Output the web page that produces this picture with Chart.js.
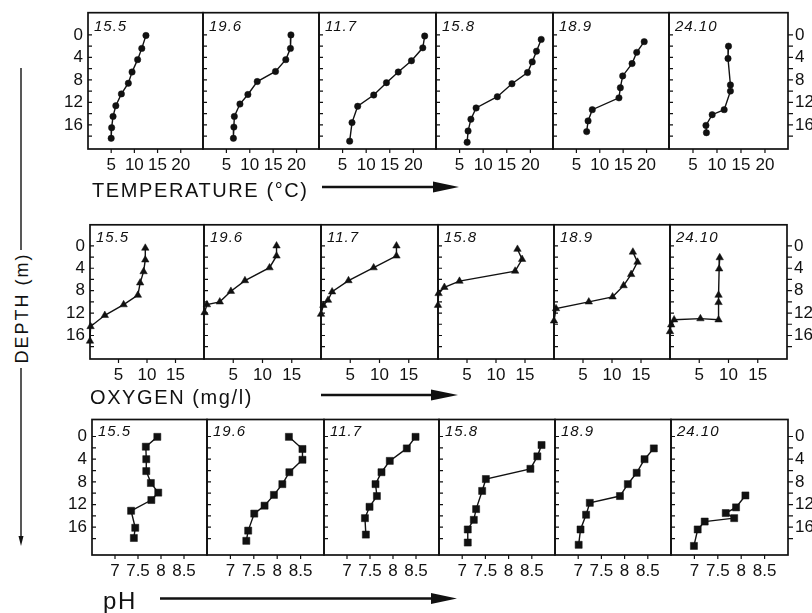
<!DOCTYPE html>
<html><head><meta charset="utf-8">
<script src="https://cdn.jsdelivr.net/npm/chart.js@4.4.1/dist/chart.umd.min.js"></script>
<style>
html,body{margin:0;padding:0;background:#fff;}
#wrap{position:relative;width:812px;height:613px;overflow:hidden;font-family:'Liberation Sans',Arial,sans-serif;color:#111;}
#wrap canvas{position:absolute;}
.date{position:absolute;font-style:italic;font-size:15px;line-height:1;letter-spacing:1px;white-space:nowrap;}
.title{position:absolute;font-size:20px;letter-spacing:1.6px;line-height:1;white-space:nowrap;}
.depth{position:absolute;font-size:18px;letter-spacing:2px;line-height:1;white-space:nowrap;transform:rotate(-90deg);transform-origin:center center;}
svg{position:absolute;left:0;top:0;}
</style></head><body><div id="wrap"></div>
<script>
// ---- data ----
const dates = ['15.5', '19.6', '11.7', '15.8', '18.9', '24.10'];
const depthTicks = [0, 4, 8, 12, 16];
const tempTicks = [5, 10, 15, 20];
const oxyTicks = [5, 10, 15];
const phTicks = [7, 7.5, 8, 8.5];

// temperature (°C) profiles
const tempDepth = [
  [0.1, 2.4, 4.4, 6.6, 8.6, 10.5, 12.6, 14.5, 16.5, 18.4],
  [0, 2.4, 4.4, 6.5, 8.3, 10.6, 12.3, 14.5, 16.4, 18.4],
  [0.2, 2.3, 4.6, 6.6, 8.5, 10.7, 12.7, 15.6, 18.9],
  [0.8, 2.9, 4.8, 6.7, 8.7, 11.0, 13.0, 15.0, 17.1, 19.1],
  [1.2, 3.1, 5.1, 7.3, 9.4, 11.2, 13.3, 15.3, 17.2],
  [2.0, 4.2, 8.9, 10.0, 13.3, 14.2, 16.1, 17.4]
];
const tempValue = [
  [12.5, 11.6, 10.7, 9.5, 8.7, 7.2, 6.0, 5.4, 5.1, 5.0],
  [18.8, 18.7, 17.7, 15.5, 11.6, 9.6, 7.9, 6.7, 6.6, 6.5],
  [22.4, 22.0, 19.6, 16.8, 14.3, 11.6, 8.2, 7.0, 6.5],
  [22.3, 21.3, 20.4, 19.4, 16.1, 13.0, 8.5, 7.4, 6.8, 6.6],
  [19.5, 17.9, 16.9, 14.9, 14.4, 14.1, 8.4, 7.5, 7.2],
  [12.4, 12.3, 12.8, 12.8, 11.5, 9.0, 7.7, 7.8]
];

// oxygen (mg/l) profiles
const oxyDepth = [
  [0.4, 2.5, 4.6, 6.6, 8.8, 10.5, 12.4, 14.4, 17.0],
  [0, 1.8, 3.9, 6.2, 8.1, 10.0, 10.5, 11.9],
  [0, 1.8, 3.9, 6.2, 8.2, 9.7, 10.6, 12.2],
  [0.6, 2.4, 4.5, 6.3, 7.4, 8.5, 10.6],
  [1.1, 2.9, 5.1, 7.1, 9.1, 10.0, 11.2, 13.4],
  [2.1, 4.1, 8.8, 10.1, 13.2, 13.0, 13.2, 14.1, 15.3]
];
const oxyValue = [
  [9.7, 9.7, 9.4, 8.8, 8.4, 5.9, 2.6, 0.1, 0],
  [12.4, 12.4, 11.2, 7.0, 4.6, 2.7, 0.5, 0.1],
  [12.9, 12.9, 9.0, 4.7, 1.9, 1.2, 0.4, 0],
  [13.7, 14.5, 13.3, 3.7, 1.1, 0.1, 0],
  [13.6, 14.4, 13.3, 12.0, 10.1, 6.0, 0.35, 0],
  [8.5, 8.4, 8.3, 8.3, 8.3, 5.2, 0.7, 0.2, 0]
];

// pH profiles
const phDepth = [
  [0.06, 1.8, 4.0, 6.1, 8.2, 9.9, 11.2, 13.1, 16.1, 17.9],
  [0.06, 2.2, 4.1, 6.3, 8.4, 10.3, 12.2, 13.6, 16.6, 18.4],
  [0.06, 2.1, 4.3, 6.3, 8.4, 10.5, 12.4, 14.4, 17.3],
  [1.5, 3.5, 5.7, 7.5, 9.6, 12.8, 14.7, 16.4, 18.7],
  [2.1, 4.0, 6.4, 8.4, 10.5, 11.7, 13.8, 16.4, 19.1],
  [10.4, 12.5, 13.5, 14.4, 15.0, 16.4, 19.3]
];
const phValue = [
  [7.92, 7.67, 7.68, 7.68, 7.78, 7.94, 7.79, 7.35, 7.44, 7.41],
  [8.25, 8.54, 8.54, 8.26, 8.11, 7.93, 7.73, 7.51, 7.38, 7.34],
  [8.49, 8.30, 7.93, 7.75, 7.62, 7.65, 7.49, 7.39, 7.41],
  [8.71, 8.62, 8.47, 7.51, 7.43, 7.30, 7.25, 7.12, 7.12],
  [8.63, 8.43, 8.26, 8.07, 7.90, 7.25, 7.17, 7.05, 7.01],
  [8.09, 7.89, 7.67, 7.85, 7.22, 7.07, 6.99]
];

// ---- layout ----
const rowTops = [12, 223, 417];
const rowBots = [149, 359, 555];
const rowCols = [
  [88, 203, 319, 436, 553, 669, 788],
  [90, 204, 321, 438, 554, 670, 787],
  [92, 207, 324, 439, 555, 671, 788]
];
const yRanges = [[-3.95, 20.3], [-3.76, 20.2], [-3.0, 20.9]];
const FONT = "'Liberation Sans', Arial, sans-serif";
const INK = '#111';

const wrap = document.getElementById('wrap');

const framePlugin = {
  id: 'frame',
  beforeDatasetsDraw(chart, args, opts) {
    const { ctx, chartArea: a, scales } = chart;
    ctx.save();
    ctx.strokeStyle = INK;
    ctx.lineWidth = 1.7;
    ctx.strokeRect(a.left, a.top, a.right - a.left, a.bottom - a.top);
    ctx.lineWidth = 1.2;
    ctx.beginPath();
    for (let d = 0; d <= 18; d += 2) {
      const y = scales.y.getPixelForValue(d);
      ctx.moveTo(a.left, y); ctx.lineTo(a.left + 4, y);
      if (opts.right) { ctx.moveTo(a.right, y); ctx.lineTo(a.right + 5, y); }
    }
    for (const v of opts.xt) {
      const x = scales.x.getPixelForValue(v);
      ctx.moveTo(x, a.bottom); ctx.lineTo(x, a.bottom + 4);
    }
    ctx.stroke();
    ctx.restore();
  }
};

function noPad(s) {
  s.paddingTop = 0; s.paddingBottom = 0; s.paddingLeft = 0; s.paddingRight = 0;
}

function makePanel(row, col, depths, values, xMin, xMax, xTicks, pointStyle, radius) {
  const left = rowCols[row][col], right = rowCols[row][col + 1];
  const top = rowTops[row], bot = rowBots[row];
  const w = right - left, h = bot - top;
  const PADL = 40, PADR = 40, PADB = 38, PADT = 3;
  const last = col === 5;
  const cv = document.createElement('canvas');
  cv.width = w + PADL + PADR; cv.height = h + PADT + PADB;
  cv.style.left = (left - PADL) + 'px';
  cv.style.top = (top - PADT) + 'px';
  cv.style.width = cv.width + 'px'; cv.style.height = cv.height + 'px';
  wrap.appendChild(cv);

  const tickFont = { family: FONT, size: 17 };
  const scales = {
    x: {
      type: 'linear', min: xMin, max: xMax,
      afterFit: s => { s.height = PADB; noPad(s); },
      afterBuildTicks: s => { s.ticks = xTicks.map(v => ({ value: v })); },
      grid: { display: false, drawTicks: false }, border: { display: false },
      ticks: { font: tickFont, color: INK, padding: 6, maxRotation: 0, autoSkip: false,
               callback: v => String(v) }
    },
    y: {
      type: 'linear', reverse: true, min: yRanges[row][0], max: yRanges[row][1], position: 'left',
      afterFit: s => { s.width = PADL; noPad(s); },
      afterBuildTicks: s => { s.ticks = depthTicks.map(v => ({ value: v })); },
      grid: { display: false, drawTicks: false }, border: { display: false },
      ticks: { display: col === 0, font: tickFont, color: INK, padding: 5, autoSkip: false }
    }
  };
  if (last) {
    scales.y2 = {
      type: 'linear', reverse: true, min: yRanges[row][0], max: yRanges[row][1], position: 'right',
      afterFit: s => { s.width = PADR; noPad(s); },
      afterBuildTicks: s => { s.ticks = depthTicks.map(v => ({ value: v })); },
      grid: { display: false, drawTicks: false }, border: { display: false },
      ticks: { display: true, font: tickFont, color: INK, padding: 7, autoSkip: false }
    };
  }
  new Chart(cv, {
    type: 'line',
    data: {
      datasets: [{
        data: values.map((v, i) => ({ x: v, y: depths[i] })),
        borderColor: INK, borderWidth: 1.4,
        pointStyle: pointStyle, pointRadius: radius, pointHoverRadius: radius,
        pointBackgroundColor: INK, pointBorderColor: INK, pointBorderWidth: 0.5,
        tension: 0, clip: false, fill: false
      }]
    },
    options: {
      responsive: false, animation: false, devicePixelRatio: 1,
      layout: { padding: { top: PADT, right: last ? 0 : PADR, left: 0, bottom: 0 } },
      scales: scales,
      plugins: { legend: { display: false }, tooltip: { enabled: false },
                 frame: { right: last, xt: xTicks } }
    },
    plugins: [framePlugin]
  });

  const d = document.createElement('div');
  d.className = 'date';
  d.textContent = dates[col];
  d.style.left = (left + 6) + 'px';
  d.style.top = (top + 6) + 'px';
  wrap.appendChild(d);
}

for (let c = 0; c < 6; c++) {
  makePanel(0, c, tempDepth[c], tempValue[c], 0, 24.8, tempTicks, 'circle', 3.2);
  makePanel(1, c, oxyDepth[c], oxyValue[c], 0, 20, oxyTicks, 'triangle', 4.3);
  makePanel(2, c, phDepth[c], phValue[c], 6.5, 9.0, phTicks, 'rect', 5);
}

function addText(cls, txt, x, y, extra) {
  const d = document.createElement('div');
  d.className = cls; d.textContent = txt;
  d.style.left = x + 'px'; d.style.top = y + 'px';
  if (extra) Object.assign(d.style, extra);
  wrap.appendChild(d);
  return d;
}
addText('title', 'TEMPERATURE (°C)', 92, 180);
addText('title', 'OXYGEN (mg/l)', 90, 387);
addText('title', 'pH', 103, 589, { fontSize: '24px' });
const dl = addText('depth', 'DEPTH  (m)', 0, 0);
const dw = dl.offsetWidth, dh = dl.offsetHeight;
dl.style.left = (21 - dw / 2) + 'px';
dl.style.top = (308 - dh / 2) + 'px';

const svgNS = 'http://www.w3.org/2000/svg';
const svg = document.createElementNS(svgNS, 'svg');
svg.setAttribute('width', 812); svg.setAttribute('height', 613);
svg.innerHTML =
  '<g stroke="#111" stroke-width="2.5" fill="#111">' +
  '<line x1="322" y1="187" x2="436" y2="187"/><polygon stroke="none" points="433,181.5 459,187 433,192.5"/>' +
  '<line x1="321" y1="395" x2="434" y2="395"/><polygon stroke="none" points="431,389.5 458,395 431,400.5"/>' +
  '<line x1="160" y1="598.5" x2="434" y2="598.5"/><polygon stroke="none" points="431,593 457,598.5 431,604"/>' +
  '</g>' +
  '<g stroke="#111" stroke-width="1.4" fill="#111">' +
  '<line x1="21" y1="68" x2="21" y2="250"/>' +
  '<line x1="21" y1="368" x2="21" y2="538"/><polygon stroke="none" points="18.5,536 23.5,536 21,546"/>' +
  '</g>';
wrap.appendChild(svg);
</script>
</body></html>
